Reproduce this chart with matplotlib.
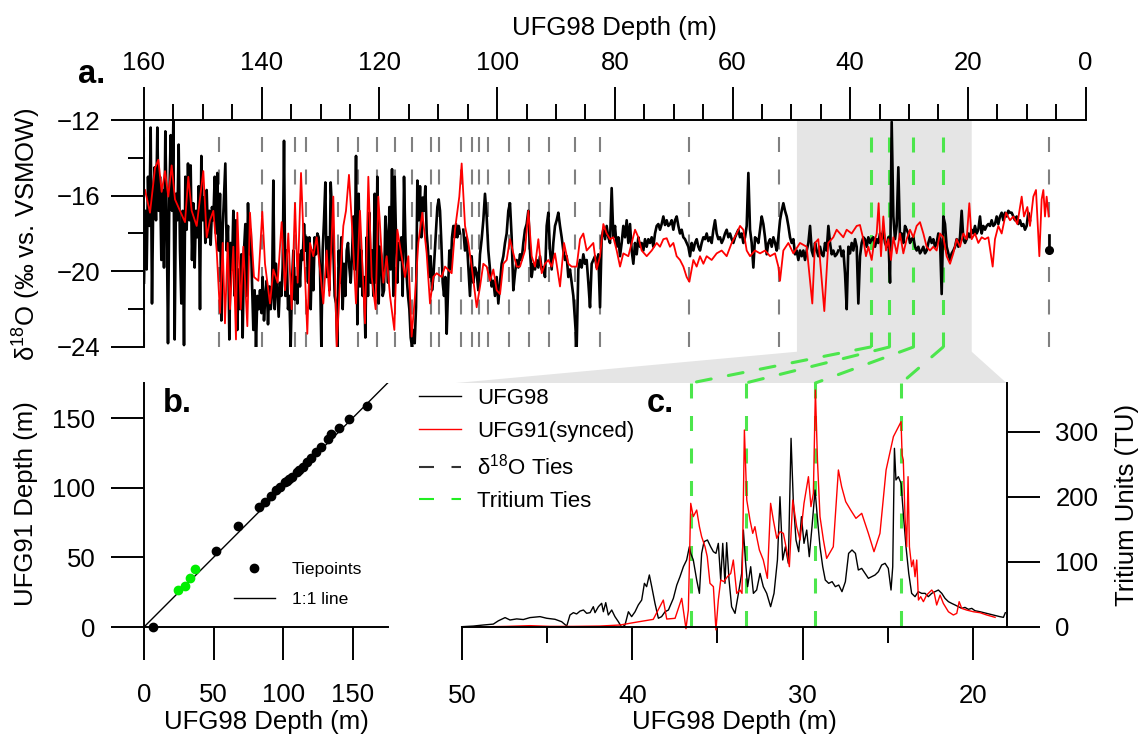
import numpy as np
import matplotlib
matplotlib.use("Agg")
import matplotlib.pyplot as plt
from matplotlib.patches import Polygon, ConnectionPatch
from matplotlib.lines import Line2D

plt.rcParams['font.family'] = ['Liberation Sans', 'DejaVu Sans']
plt.rcParams['mathtext.fontset'] = 'custom'
plt.rcParams['mathtext.rm'] = 'Liberation Sans'
plt.rcParams['mathtext.it'] = 'Liberation Sans:italic'
plt.rcParams['lines.scale_dashes'] = False

# ---------------- data ----------------
# UFG98 d18O, read off in three regularly sampled stretches
d18o98_a = [  # 160.0 -> 106.3 m
    -20.6, -16.8, -19.9, -15.0, -17.6, -12.4, -21.7, -15.9, -14.5, -17.3,
    -12.4, -16.8, -15.0, -19.4, -15.7, -19.8, -12.6, -17.1, -23.8, -16.1,
    -12.8, -16.8, -12.0, -23.6, -15.9, -17.3, -13.3, -18.9, -21.7, -16.8,
    -23.9, -15.0, -17.8, -14.3, -17.3, -14.4, -19.4, -16.4, -19.8, -16.8,
    -18.2, -15.5, -22.0, -13.9, -17.3, -16.1, -18.5, -15.7, -18.2, -16.8,
    -18.6, -16.6, -17.3, -15.0, -18.0, -14.8, -18.9, -15.9, -22.6, -17.8,
    -16.1, -14.3, -18.9, -17.6, -23.6, -18.5, -19.9, -16.8, -21.3, -17.3,
    -23.1, -19.9, -22.0, -19.1, -23.5, -18.9, -17.5, -21.3, -16.4, -19.1,
    -17.8, -20.6, -23.1, -21.0, -24.0, -21.3, -22.0, -21.0, -22.2, -20.3,
    -22.6, -21.3, -20.5, -22.8, -20.8, -22.0, -21.2, -15.2, -22.0, -19.6,
    -21.0, -22.4, -20.6, -21.3, -19.8, -13.1, -21.3, -18.9, -22.0, -21.3,
    -24.0, -20.6, -18.9, -21.5, -20.3, -21.7, -19.1, -20.8, -18.9, -19.4,
    -17.5, -18.9, -18.2, -20.6, -18.2, -22.0, -18.9, -21.0, -18.2, -19.1,
    -18.0, -18.2, -19.9, -24.0, -18.9, -17.3, -15.3, -20.3, -18.2, -21.0,
    -15.3, -16.8, -18.9, -21.3, -21.7, -24.0, -18.9, -20.6, -18.2, -22.0,
    -19.6, -21.3, -18.9, -18.5, -19.8, -20.6, -19.1, -17.1, -19.9, -13.9,
    -22.8, -15.9, -20.8, -18.9, -21.3, -20.3, -23.5, -18.2, -21.3, -16.9,
    -20.6, -18.9, -21.3, -15.9, -20.6, -15.0, -21.7, -18.7, -19.2, -21.3,
    -21.0, -17.1, -18.2, -20.6, -16.6, -19.9, -14.6, -21.3, -15.0, -18.2,
    -20.6, -18.5, -19.4, -18.2, -21.3, -15.0, -18.2, -20.3, -21.3, -22.0,
    -23.5, -24.0, -23.1, -23.8, -21.9, -15.2, -17.3, -15.5, -18.2, -16.1,
    -16.8, -15.5, -18.0, -18.9, -20.3, -19.2, -21.0, -20.3, -19.1, -17.8,
    -16.6, -16.2, -16.8, -18.5, -20.6, -21.3, -20.3, -23.3, -21.0, -18.9,
    -19.9, -18.2, -17.6, -18.2, -17.5, -18.2, -17.6, -18.0]
d18o98_b = [  # 105.7 -> 42.0 m
    -17.8, -18.9, -18.2, -19.8, -21.3, -19.2, -20.6, -19.8, -20.1, -21.0,
    -19.1, -18.3, -17.3, -15.9, -17.1, -18.9, -19.9, -20.8, -20.5, -21.3,
    -20.3, -21.7, -20.6, -19.6, -19.2, -18.5, -18.0, -16.8, -16.4, -18.2,
    -21.0, -20.1, -19.4, -19.8, -19.1, -19.4, -18.5, -17.8, -17.5, -16.8,
    -18.9, -20.3, -19.6, -19.9, -19.4, -19.8, -19.2, -19.9, -19.8, -20.3,
    -17.6, -16.9, -18.9, -19.9, -18.5, -17.6, -17.3, -16.9, -17.6, -18.2,
    -18.9, -19.4, -19.2, -20.3, -19.9, -20.6, -21.3, -22.6, -24.0, -19.9,
    -19.4, -19.8, -19.1, -19.6, -19.4, -20.6, -21.9, -19.6, -19.4, -19.2,
    -19.8, -19.1, -21.9, -18.2, -17.8, -18.3, -17.6, -18.2, -18.5, -15.6,
    -18.2, -17.6, -18.7, -18.2, -19.2, -18.5, -17.6, -18.2, -17.3, -18.5,
    -17.5, -18.9, -19.6, -18.5, -19.1, -18.2, -18.7, -18.5, -18.9, -18.3,
    -18.7, -18.3, -18.5, -18.2, -18.7, -18.0, -17.6, -17.5, -17.8, -17.5,
    -17.1, -17.55, -17.3, -17.6, -17.5, -17.3, -17.8, -17.3, -17.1, -17.6,
    -18.0, -17.8, -18.2, -18.3, -18.5, -18.7, -19.2, -18.5, -18.9, -18.5,
    -18.3, -18.7, -18.9, -18.5, -18.2, -18.3, -18.0, -18.4, -18.2, -18.5,
    -17.8, -17.3, -18.0, -18.3, -18.2, -18.5, -18.3, -18.0, -17.8, -18.2,
    -18.0, -18.3, -18.5, -18.2, -18.0, -17.8, -18.2, -18.0, -18.5, -18.2,
    -17.6, -14.8, -17.8, -18.5, -19.8, -18.2, -18.3, -18.5, -17.8, -17.1,
    -17.5, -18.2, -19.1, -18.5, -18.3, -18.7, -18.2, -18.5, -18.9, -18.2,
    -17.3, -16.8, -16.4, -16.8, -17.1, -17.6, -18.2, -18.5, -18.3, -19.1,
    -18.9, -19.4, -18.9, -19.2, -18.9, -19.4, -18.9, -18.5, -17.6, -18.9,
    -19.2, -18.5, -18.9, -19.2, -18.7, -19.1, -19.2, -18.5, -18.9, -17.6,
    -18.5, -19.1, -18.9, -19.2, -19.1, -18.9]
d18o98_c = [  # 41.7 -> 9.45 m
    -18.7, -19.2, -18.9, -20.1, -22.0, -18.7, -19.05, -18.5, -18.9, -18.3,
    -18.7, -21.7, -19.2, -18.5, -18.2, -18.3, -18.7, -18.2, -18.5, -18.3,
    -18.2, -18.7, -18.3, -18.5, -18.0, -18.3, -17.8, -18.5, -18.7, -18.2,
    -20.6, -12.1, -17.1, -18.3, -17.6, -14.5, -18.3, -18.0, -18.5, -17.6,
    -17.8, -18.0, -18.5, -18.3, -18.2, -18.7, -18.9, -18.7, -19.05, -18.9,
    -18.7, -19.05, -18.9, -18.5, -18.2, -18.5, -18.3, -18.7, -18.5, -18.0,
    -18.3, -21.2, -17.1, -17.5, -18.7, -19.05, -19.4, -19.05, -18.9, -18.7,
    -18.3, -18.7, -18.2, -16.8, -18.3, -18.5, -18.3, -18.0, -18.2, -17.8,
    -18.0, -17.6, -18.0, -17.8, -17.1, -18.0, -17.6, -17.8, -17.6, -17.5,
    -17.6, -17.3, -17.6, -17.5, -17.1, -17.5, -17.1, -16.9, -17.3, -16.9,
    -17.1, -16.8, -16.9, -16.9, -17.1, -17.3, -17.1, -17.5, -17.3, -17.6,
    -17.5, -17.8, -17.6, -16.9, -17.3]
stretch_ends = [(160.0, 106.3), (105.74, 42.01), (41.73, 9.45)]
d18o98_top = [(6.2, -18.1), (6.2, -18.85)]   # isolated top sample

# UFG91 d18O on the synchronised depth scale (depth, d18O)
d18o91 = [
    (159.83, -15.7), (158.98, -16.9), (158.13, -14.55), (157.56, -14.1), (157.0, -15.8),
    (156.43, -14.7), (155.87, -16.05), (155.3, -14.4), (154.73, -16.2), (153.03, -17.4),
    (152.47, -15.0), (151.9, -16.8), (151.05, -17.6), (149.92, -14.7), (149.35, -18.2),
    (148.79, -17.3), (148.22, -16.8), (147.65, -18.9), (147.09, -22.2), (146.63, -18.5),
    (146.24, -22.75), (145.78, -18.5), (145.39, -22.0), (144.82, -18.7), (144.37, -23.6),
    (144.14, -16.9), (143.57, -22.0), (143.12, -18.7), (142.44, -22.9), (141.99, -16.9),
    (141.31, -20.3), (140.57, -20.5), (139.9, -16.85), (139.44, -19.6), (138.59, -21.7),
    (138.02, -19.9), (137.29, -20.6), (136.61, -17.4), (136.04, -21.0), (135.48, -18.0),
    (134.91, -22.0), (134.34, -16.4), (133.89, -20.6), (133.32, -14.8), (132.81, -18.9),
    (132.25, -23.3), (131.79, -18.5), (131.23, -19.2), (130.66, -18.2), (130.09, -19.9),
    (129.53, -21.7), (128.96, -18.9), (128.5, -21.3), (127.83, -16.05), (127.26, -24.0),
    (126.7, -20.6), (126.13, -17.6), (125.68, -16.8), (125.17, -14.9), (124.54, -18.2),
    (123.98, -21.7), (123.3, -16.8), (122.45, -22.75), (121.88, -15.0), (121.31, -20.3),
    (120.64, -22.0), (120.18, -16.05), (119.33, -20.6), (118.77, -19.2), (118.2, -21.3),
    (117.46, -23.1), (116.95, -17.8), (116.22, -19.2), (115.65, -20.3), (115.08, -19.2),
    (114.52, -23.45), (113.95, -21.3), (113.39, -18.5), (112.71, -16.9), (111.97, -19.05),
    (111.4, -21.7), (110.84, -20.3), (110.27, -20.1), (109.42, -20.3), (108.85, -19.75),
    (107.72, -20.1), (107.16, -17.8), (106.42, -16.05), (106.02, -14.3), (105.45, -17.6),
    (104.88, -18.5), (104.32, -19.75), (103.47, -21.9), (102.9, -20.8), (102.34, -19.6),
    (101.77, -19.75), (101.2, -20.5), (100.64, -19.9), (100.07, -21.0), (99.5, -21.2),
    (98.94, -19.6), (98.37, -19.4), (97.81, -18.3), (97.24, -19.05), (96.67, -19.75),
    (96.11, -19.75), (95.26, -18.9), (94.69, -16.8), (94.12, -19.2), (93.56, -19.75),
    (92.99, -18.3), (92.42, -20.1), (91.86, -19.6), (91.29, -19.4), (90.73, -19.75),
    (90.16, -19.05), (89.31, -20.8), (88.63, -18.5), (87.89, -19.6), (87.33, -19.75),
    (86.48, -19.75), (85.91, -18.3), (85.35, -18.0), (84.78, -18.9), (84.21, -18.7),
    (83.65, -18.5), (83.08, -19.9), (82.51, -19.2), (81.95, -17.5), (81.38, -18.0),
    (80.81, -18.3), (80.25, -18.2), (79.68, -18.9), (79.11, -19.75), (78.55, -19.05),
    (77.7, -19.2), (77.13, -18.5), (76.56, -17.8), (76.0, -18.2), (75.43, -18.9),
    (74.58, -19.2), (73.73, -18.9), (72.88, -18.5), (72.32, -18.7), (71.75, -18.3),
    (71.18, -18.25), (70.62, -18.7), (70.05, -18.5), (69.49, -19.2), (68.92, -19.4),
    (68.35, -19.75), (67.79, -20.3), (67.33, -20.55), (66.65, -19.4), (66.09, -19.75),
    (65.52, -19.2), (64.95, -19.6), (64.39, -19.2), (63.54, -19.4), (62.69, -19.05),
    (61.84, -18.9), (60.99, -19.2), (60.14, -18.5), (59.29, -18.0), (58.72, -17.6),
    (58.16, -17.8), (57.59, -18.9), (57.02, -19.2), (56.17, -18.9), (55.32, -19.05),
    (54.47, -18.9), (53.62, -19.2), (52.78, -19.05), (52.21, -19.75), (51.93, -20.5),
    (51.36, -18.9), (50.51, -18.5), (49.66, -19.05), (48.53, -18.5), (47.4, -18.7),
    (46.44, -21.7), (45.98, -18.5), (45.42, -18.3), (44.4, -22.1), (43.72, -18.5),
    (42.87, -18.2), (42.3, -17.8), (41.74, -18.0), (41.17, -18.2), (40.6, -17.8),
    (39.75, -18.0), (38.9, -17.6), (38.34, -17.55), (37.77, -18.3), (37.32, -19.2),
    (36.92, -18.7), (36.35, -19.4), (35.96, -18.5), (35.5, -18.0), (35.17, -16.4),
    (34.77, -19.2), (34.37, -17.1), (33.92, -18.9), (33.52, -18.3), (33.07, -19.4),
    (32.67, -18.2), (32.1, -19.05), (31.54, -18.0), (30.97, -19.05), (30.41, -18.3),
    (29.84, -17.8), (29.27, -18.2), (28.71, -17.6), (28.14, -17.4), (27.57, -18.0),
    (27.01, -18.7), (26.44, -18.9), (25.88, -18.7), (25.31, -18.9), (24.74, -18.0),
    (24.18, -18.2), (23.61, -19.2), (23.04, -19.6), (22.48, -19.05), (21.91, -18.3),
    (21.34, -18.7), (20.78, -18.0), (20.21, -18.3), (19.76, -16.4), (19.36, -18.3),
    (18.8, -18.0), (18.23, -18.5), (17.66, -18.2), (17.1, -18.3), (16.53, -18.2),
    (15.79, -19.75), (15.4, -18.3), (14.83, -17.6), (14.26, -18.0), (13.53, -16.9),
    (12.85, -17.3), (12.28, -17.1), (11.6, -17.5), (10.86, -16.05), (10.47, -17.1),
    (9.9, -16.6), (9.45, -17.6), (8.88, -16.05), (8.43, -15.7), (7.86, -19.2),
    (7.47, -16.2), (7.18, -15.7), (6.9, -17.1), (6.62, -16.05), (6.27, -17.1)]

# tie points (UFG98 depth, UFG91 depth)
ties98_o = [6.2, 52.1, 67.4, 82.5, 86.7, 91.2, 94.6, 97.9, 101.5, 103.1, 104.3, 106.2,
            109.8, 111.3, 114.5, 117.3, 120.4, 123.6, 127.0, 132.4, 134.4, 139.9, 147.3, 160.0]
ties91_o = [0.0, 54.5, 72.7, 86.4, 90.0, 94.0, 98.0, 100.7, 103.8, 105.0, 106.2, 107.6,
            111.2, 112.5, 114.6, 118.4, 121.5, 125.8, 129.4, 135.2, 138.3, 142.6, 149.5, 158.6]
ties98_t = [24.2, 29.25, 33.35, 36.55]
ties91_t = [26.6, 29.4, 35.4, 41.9]

# tritium (depth, TU)
trit98 = [
    (50.02, 0), (49.33, 1), (48.75, 2.6), (48.16, 4), (47.87, 9), (47.47, 14), (47.18, 10.3),
    (46.79, 12), (46.4, 11), (46.01, 14), (45.42, 15.5), (45.03, 13), (44.54, 11.4), (44.15, 7.7),
    (43.85, 1), (43.66, 18), (43.46, 21.6), (43.27, 19.6), (43.07, 24), (42.87, 25.7), (42.68, 20.6),
    (42.48, 21.6), (42.29, 30.8), (42.19, 21.6), (41.99, 30.8), (41.8, 36), (41.7, 23), (41.56, 37),
    (41.41, 18), (41.21, 25.7), (41.02, 15.5), (40.82, 7.7), (40.62, -1), (40.43, 2.6), (40.23, 23),
    (40.04, 15.5), (39.84, 23), (39.65, 33.4), (39.45, 41), (39.29, 66.7), (39.16, 61.6), (39.0, 79.6),
    (38.86, 61.6), (38.67, 36), (38.47, 13), (38.28, 15.5), (38.08, 23), (37.88, 25.7), (37.59, 43.6),
    (37.39, 64), (37.2, 77), (37.0, 92.4), (36.81, 102.6), (36.65, 123), (36.57, 112.8), (36.42, 102.6),
    (36.22, 71.8), (36.06, 51.3), (35.93, 112.8), (35.79, 130.8), (35.59, 133.4), (35.4, 123),
    (35.24, 115.4), (35.09, 112.8), (34.95, 128.2), (34.81, 71.8), (34.69, 128.2), (34.56, 66.7),
    (34.46, 129.3), (34.32, 71.8), (34.17, 30.8), (33.97, 20.5), (33.77, 51.3), (33.58, 82),
    (33.48, 148.7), (33.36, 102.6), (33.23, 61.6), (33.05, 92.3), (32.89, 51.3), (32.7, 56.5),
    (32.5, 82), (32.31, 61.6), (32.11, 51.3), (31.88, 30.8), (31.68, 51.3), (31.48, 102.6),
    (31.33, 200), (31.17, 102.6), (31.01, 123), (30.84, 97.5), (30.68, 289.8), (30.55, 194.9),
    (30.39, 133.4), (30.23, 115.4), (30.07, 169.3), (29.92, 128.2), (29.76, 148.7), (29.61, 107.7),
    (29.45, 153.9), (29.27, 210.3), (29.14, 169.3), (28.98, 123), (28.82, 92.3), (28.67, 71.8),
    (28.47, 66.7), (28.27, 69.3), (28.08, 61.6), (27.88, 64.1), (27.69, 53.9), (27.49, 69.3),
    (27.3, 112.8), (27.1, 118), (26.9, 112.8), (26.73, 87.2), (26.53, 89.7), (26.33, 82),
    (26.14, 74.4), (25.95, 76.9), (25.75, 79.5), (25.55, 84.6), (25.36, 94.9), (25.16, 97.5),
    (24.97, 89.7), (24.81, 56.4), (24.71, 92.3), (24.61, 274.4), (24.52, 225.7), (24.38, 230.8),
    (24.22, 220.5), (24.09, 174.4), (23.93, 123), (23.77, 82), (23.6, 51.3), (23.4, 46.2),
    (23.21, 53.9), (23.01, 51.3), (22.81, 51.3), (22.62, 46.2), (22.42, 51.3), (22.23, 53.9),
    (22.03, 56.4), (21.83, 51.3), (21.64, 43.6), (21.44, 38.5), (21.25, 35.9), (21.05, 33.4),
    (20.86, 30.8), (20.66, 28.2), (20.47, 29.7), (20.27, 26.7), (20.07, 28.2), (19.88, 24.6),
    (19.58, 23), (19.19, 20.5), (18.8, 18), (18.41, 15.4), (18.21, 14.4), (18.1, 21.5)]
trit91 = [
    (49.33, 0), (48.36, 0), (47.38, 0.5), (46.01, 1.6), (44.83, 0.5), (43.46, 0.5), (41.9, 1),
    (40.72, 2.6), (39.94, 6.2), (38.77, 11.3), (38.18, 41), (37.98, 11.8), (37.49, 12.9),
    (37.1, 43.6), (36.85, -3), (36.71, 25.7), (36.57, 189.8), (36.42, 169.3), (36.22, 179.5),
    (36.06, 153.9), (35.93, 138.5), (35.73, 123), (35.6, 107.7), (35.44, 66.7), (35.24, 61.6),
    (35.09, -5), (34.95, 41), (34.81, 71.8), (34.62, 69.3), (34.42, 76.9), (34.22, 82),
    (34.07, 102.6), (33.87, 51.3), (33.68, 56.5), (33.56, 51.3), (33.48, 194.9), (33.42, 302.6),
    (33.28, 194.9), (33.09, 164.1), (32.93, 143.6), (32.8, 153.9), (32.7, 138.5), (32.54, 118),
    (32.31, 102.6), (32.07, 74.4), (31.88, 189.8), (31.72, 164.1), (31.52, 136), (31.33, 146.2),
    (31.13, 143.6), (30.94, 118), (30.78, 92.3), (30.58, 194.9), (30.35, 153.9), (30.15, 133.4),
    (29.92, 189.8), (29.66, 230.8), (29.51, 184.7), (29.37, 205.1), (29.25, 364.1), (29.13, 256.4),
    (28.98, 169.3), (28.78, 133.4), (28.59, 105.1), (28.2, 123), (27.9, 241.1), (27.71, 215.4),
    (27.47, 192.3), (27.18, 179.5), (26.87, 166.7), (26.53, 174.4), (26.14, 143.6), (25.81, 115.4),
    (25.46, 143.6), (25.1, 241.1), (24.67, 292.4), (24.22, 315.4), (24.16, 264.1), (24.09, 256.4),
    (23.99, 169.3), (23.89, 123), (23.81, 230.8), (23.73, 123), (23.6, 92.3), (23.5, 102.6),
    (23.4, 76.9), (23.3, 102.6), (23.2, 41), (23.07, 46.2), (22.91, 38.5), (22.72, 48.7),
    (22.42, 56.4), (22.27, 51.3), (22.13, 33.4), (21.93, 48.7), (21.74, 35.9), (21.44, 23),
    (21.15, 18), (20.95, 20.5), (20.81, 38.5), (20.66, 28.2), (20.37, 25.6), (19.97, 23),
    (19.58, 21.5), (19.19, 18), (18.7, 14.4)]

shade = (49.05, 19.35)          # zoomed interval shown in panel c
top_xticks = list(range(0, 161, 20))
a_yticks = [-24, -20, -16, -12]
b_ticks = [0, 50, 100, 150]
c_xticks = [50, 40, 30, 20]
c_yticks = [0, 100, 200, 300]

# ---------------- figure ----------------
W, H = 1142, 738
fig = plt.figure(figsize=(W / 100, H / 100), dpi=100)

def box(l, t, r, b):
    return [l / W, 1 - b / H, (r - l) / W, (b - t) / H]

fs = 18.5
lw_ax = 1.4
major_len, minor_len = 23.5, 11.8
grey_tie = '#808080'
green = '#4ce64c'
dash = (10.8, 12.6)

ax_a = fig.add_axes(box(144, 120, 1085.6, 347))
ax_b = fig.add_axes(box(109, 383, 389, 662))
ax_c = fig.add_axes(box(462, 383, 1006.5, 626.7))
for ax in (ax_a, ax_b, ax_c):
    ax.set_facecolor('none')
    for s in ax.spines.values():
        s.set_linewidth(lw_ax)

# ---- panel a ----
ax_a.set_xlim(160, 0)
ax_a.set_ylim(-24, -12)
for d in ties98_o:
    ax_a.plot([d, d], [-24, -12], color=grey_tie, lw=1.5, dashes=dash)
for d in ties98_t:
    ax_a.plot([d, d], [-24, -12], color=green, lw=2.2, dashes=dash)
for (d0, d1), vals in zip(stretch_ends, (d18o98_a, d18o98_b, d18o98_c)):
    ax_a.plot(np.linspace(d0, d1, len(vals)), vals, color='black', lw=1.9)
tx, ty = zip(*d18o98_top)
ax_a.plot(tx, ty, color='black', lw=1.9)
ax_a.plot([tx[-1]], [ty[-1]], 'o', color='black', ms=5.5)
rx, ry = zip(*d18o91)
ax_a.plot(rx, ry, color='red', lw=1.3)

ax_a.spines['bottom'].set_visible(False)
ax_a.spines['right'].set_visible(False)
ax_a.xaxis.set_ticks_position('top')
ax_a.set_xticks(top_xticks)
ax_a.set_xticks(range(0, 161, 5), minor=True)
ax_a.set_yticks(a_yticks)
ax_a.set_yticks([-22, -18, -14], minor=True)
ax_a.tick_params(axis='x', which='major', length=major_len, width=lw_ax, pad=9, labelsize=fs)
ax_a.tick_params(axis='x', which='minor', length=minor_len, width=lw_ax)
ax_a.tick_params(axis='y', which='major', length=major_len, width=lw_ax, pad=8, labelsize=fs)
ax_a.tick_params(axis='y', which='minor', length=minor_len, width=lw_ax)

# ---- panel b ----
ax_b.set_xlim(-25.16, 176.13)
ax_b.set_ylim(-25.12, 175.13)
ax_b.spines['left'].set_position(('data', 0))
ax_b.spines['bottom'].set_position(('data', 0))
ax_b.spines['left'].set_bounds(0, 175.13)
ax_b.spines['bottom'].set_bounds(0, 175.4)
ax_b.spines['top'].set_visible(False)
ax_b.spines['right'].set_visible(False)
ax_b.plot([0, 175.2], [0, 175.2], color='black', lw=1.0, label='1:1 line')
ax_b.plot(ties98_o, ties91_o, 'o', color='black', ms=6, label='Tiepoints', clip_on=False)
ax_b.plot(ties98_t, ties91_t, 'o', color='#00ee00', ms=6)
ax_b.set_xticks(b_ticks)
ax_b.set_yticks(b_ticks)
ax_b.tick_params(axis='x', length=major_len, width=lw_ax, pad=17, labelsize=fs)
ax_b.tick_params(axis='y', length=major_len, width=lw_ax, pad=11.5, labelsize=fs)
hb = [Line2D([], [], marker='o', ls='none', color='black', ms=6),
      Line2D([], [], color='black', lw=1.0)]
ax_b.legend(hb, ['Tiepoints', '1:1 line'], loc='upper left',
            bbox_to_anchor=(234 / W, 1 - 562 / H), bbox_transform=fig.transFigure,
            frameon=False, fontsize=12.6, handlelength=2.34, handletextpad=0.95,
            labelspacing=0.83, borderpad=0, borderaxespad=0)

# ---- panel c ----
c_top = 374.9
ax_c.set_xlim(50, 18.03)
ax_c.set_ylim(0, c_top)
for d in ties98_t:
    ax_c.plot([d, d], [c_top, 0], color=green, lw=2.2, dashes=dash, clip_on=False)
bx, by = zip(*trit98)
ax_c.plot(bx, by, color='black', lw=1.0, clip_on=False)
rx, ry = zip(*trit91)
ax_c.plot(rx, ry, color='red', lw=1.0, clip_on=False)
ax_c.spines['left'].set_visible(False)
ax_c.spines['top'].set_visible(False)
ax_c.yaxis.tick_right()
ax_c.set_xticks(c_xticks)
ax_c.set_xticks([45, 35, 25], minor=True)
ax_c.set_yticks(c_yticks)
ax_c.tick_params(axis='x', which='major', length=major_len, width=lw_ax, pad=17.5, labelsize=fs)
ax_c.tick_params(axis='x', which='minor', length=minor_len, width=lw_ax)
ax_c.tick_params(axis='y', length=major_len, width=lw_ax, pad=11.7, labelsize=fs)
hc = [Line2D([], [], color='black', lw=1.0),
      Line2D([], [], color='red', lw=1.0),
      Line2D([], [], color='#333333', lw=1.5, dashes=dash),
      Line2D([], [], color='#22ee22', lw=1.5, dashes=dash)]
ax_c.legend(hc, ['UFG98', 'UFG91(synced)', 'δ$^{18}$O Ties', 'Tritium Ties'],
            loc='upper left', bbox_to_anchor=(419 / W, 1 - 388 / H),
            bbox_transform=fig.transFigure, frameon=False, fontsize=16,
            handlelength=1.89, handletextpad=0.71, labelspacing=0.53,
            borderpad=0, borderaxespad=0)

# ---- zoom shading and tritium tie connectors ----
inv = fig.transFigure.inverted()
def to_fig(ax, x, y):
    return inv.transform(ax.transData.transform((x, y)))

poly = Polygon([to_fig(ax_a, shade[0], -12), to_fig(ax_a, shade[1], -12),
                to_fig(ax_a, shade[1], -24.25), to_fig(ax_c, 18.03, c_top),
                to_fig(ax_c, 50.35, c_top), to_fig(ax_a, shade[0], -24.25)],
               closed=True, facecolor='#e5e5e5', edgecolor='none',
               transform=fig.transFigure, zorder=-1)
fig.add_artist(poly)
for d in ties98_t:
    con = ConnectionPatch(xyA=(d, -24), coordsA=ax_a.transData,
                          xyB=(d, c_top), coordsB=ax_c.transData,
                          color=green, lw=2.2, linestyle=(0, dash))
    fig.add_artist(con)

# ---- labels ----
def ftext(x, y, s, **kw):
    fig.text(x / W, 1 - y / H, s, **kw)

ftext(614, 28, 'UFG98 Depth (m)', fontsize=fs, ha='center', va='center')
ftext(27, 234, 'δ$^{18}$O (‰ vs. VSMOW)', fontsize=fs, ha='center', va='center', rotation=90)
ftext(26, 504, 'UFG91 Depth (m)', fontsize=fs, ha='center', va='center', rotation=90)
ftext(266, 722, 'UFG98 Depth (m)', fontsize=fs, ha='center', va='center')
ftext(734, 722, 'UFG98 Depth (m)', fontsize=fs, ha='center', va='center')
ftext(1127, 505, 'Tritium Units (TU)', fontsize=fs, ha='center', va='center', rotation=90)
ftext(78, 83, 'a.', fontsize=23.5, fontweight='bold', ha='left', va='baseline')
ftext(163, 411.7, 'b.', fontsize=23.5, fontweight='bold', ha='left', va='baseline')
ftext(646.7, 411.7, 'c.', fontsize=23.5, fontweight='bold', ha='left', va='baseline')

fig.savefig('out.png', dpi=100)
